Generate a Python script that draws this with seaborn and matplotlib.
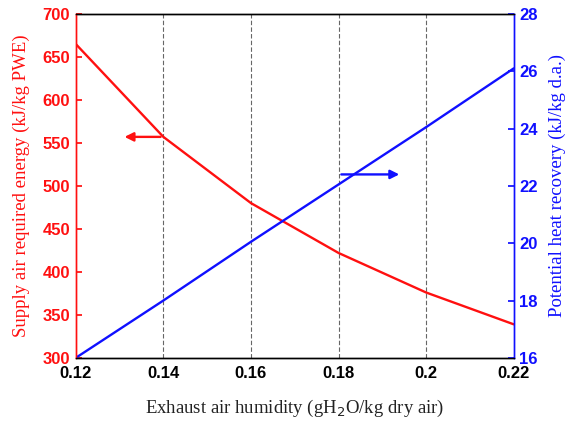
import numpy as np
import pandas as pd
import seaborn as sns
import matplotlib
matplotlib.use("Agg")
import matplotlib.pyplot as plt

# Exhaust air humidity (g H2O / kg dry air)
humidity = [0.12, 0.14, 0.16, 0.18, 0.20, 0.22]
# Supply air required energy (kJ/kg PWE)
supply_energy = [665, 557, 480, 422, 376, 339]
# Potential heat recovery (kJ/kg d.a.)
heat_recovery = [16.0, 18.0, 20.05, 22.05, 24.05, 26.1]

x_ticks = [0.12, 0.14, 0.16, 0.18, 0.2, 0.22]
x_tick_labels = ["0.12", "0.14", "0.16", "0.18", "0.2", "0.22"]
left_ticks = [300, 350, 400, 450, 500, 550, 600, 650, 700]
right_ticks = [16, 18, 20, 22, 24, 26, 28]

df = pd.DataFrame({"humidity": humidity, "energy": supply_energy, "recovery": heat_recovery})

sns.set_theme(style="white")
plt.rcParams["font.family"] = ["Liberation Sans", "DejaVu Sans"]

RED = "#ff1010"
BLUE = "#1010ff"

fig = plt.figure(figsize=(5.74, 4.22), dpi=100)
ax = fig.add_axes([0.132, 0.152, 0.763, 0.815])
ax2 = ax.twinx()

sns.lineplot(data=df, x="humidity", y="energy", ax=ax, color=RED, lw=1.7)
sns.lineplot(data=df, x="humidity", y="recovery", ax=ax2, color=BLUE, lw=1.7)

ax.set_xlim(0.12, 0.22)
ax.set_ylim(300, 700)
ax2.set_ylim(16, 28)

for xv in x_ticks[1:-1]:
    ax.axvline(xv, color="#666666", lw=0.8, ls=(0, (4, 2)), zorder=0)

ax.set_xticks(x_ticks)
ax.set_xticklabels(x_tick_labels)
ax.set_yticks(left_ticks)
ax2.set_yticks(right_ticks)

ax.tick_params(axis="x", direction="in", length=4, colors="black", labelsize=12, pad=6)
ax.tick_params(axis="y", direction="in", length=4, colors=RED, labelsize=12, pad=4)
ax2.tick_params(axis="y", direction="in", length=4, colors=BLUE, labelsize=12, pad=4)
for lbl in ax.get_xticklabels() + ax.get_yticklabels() + ax2.get_yticklabels():
    lbl.set_fontweight("bold")

for a in (ax, ax2):
    for s in a.spines.values():
        s.set_linewidth(1.0)
        s.set_color("black")
    a.spines["left"].set_color(RED)
    a.spines["right"].set_color(BLUE)

serif = ["Liberation Serif", "DejaVu Serif"]
ax.set_xlabel("Exhaust air humidity (gH$_2$O/kg dry air)", family=serif, fontsize=13.5,
              color="#222222", labelpad=12)
ax.set_ylabel("Supply air required energy (kJ/kg PWE)", family=serif, fontsize=13.5,
              color=RED, labelpad=9)
ax2.set_ylabel("Potential heat recovery (kJ/kg d.a.)", family=serif, fontsize=13.5,
               color=BLUE, labelpad=8)

ax.annotate("", xy=(0.1305, 557), xytext=(0.14, 557),
            arrowprops=dict(arrowstyle="-|>", color=RED, lw=1.7, mutation_scale=13))
ax2.annotate("", xy=(0.1945, 22.4), xytext=(0.18, 22.4),
             arrowprops=dict(arrowstyle="-|>", color=BLUE, lw=1.7, mutation_scale=13))

fig.savefig("out.png", dpi=100)
